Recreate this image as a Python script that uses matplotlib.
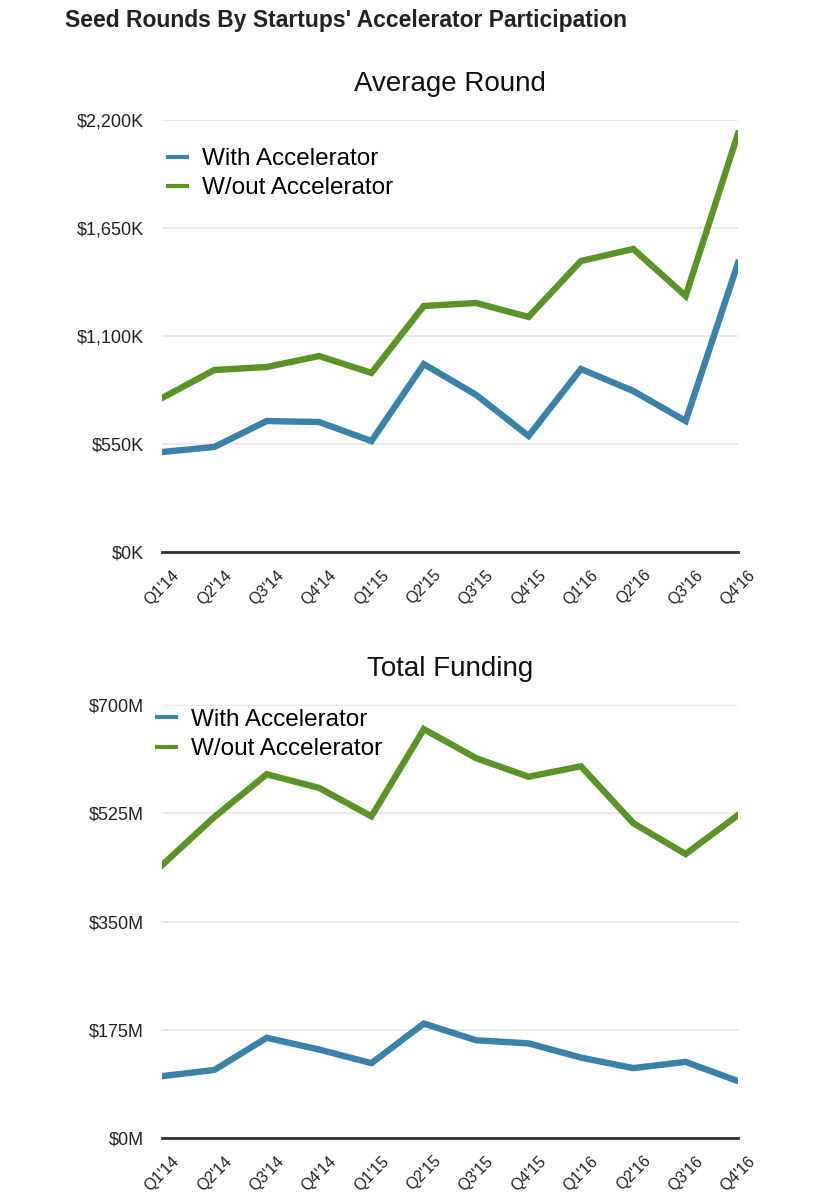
import matplotlib
matplotlib.use("Agg")
import matplotlib.pyplot as plt
from matplotlib.ticker import FixedLocator

plt.rcParams["font.family"] = ["Liberation Sans", "DejaVu Sans"]

# ---------------------------------------------------------------------------
# Data
# ---------------------------------------------------------------------------
quarters = ["Q1'14", "Q2'14", "Q3'14", "Q4'14", "Q1'15", "Q2'15",
            "Q3'15", "Q4'15", "Q1'16", "Q2'16", "Q3'16", "Q4'16"]

# average round size, $K
avg_with = [509, 535, 667, 662, 565, 957, 800, 591, 932, 820, 667, 1472]
avg_without = [784, 927, 942, 998, 912, 1253, 1268, 1197, 1482, 1543, 1304, 2130]

# total funding, $M
tot_with = [100, 110, 162, 143, 121, 185, 158, 153, 130, 113, 123, 92]
tot_without = [441, 519, 588, 566, 520, 661, 614, 584, 601, 509, 459, 522]

avg_ticks = [0, 550, 1100, 1650, 2200]
avg_labels = ["$0K", "$550K", "$1,100K", "$1,650K", "$2,200K"]
tot_ticks = [0, 175, 350, 525, 700]
tot_labels = ["$0M", "$175M", "$350M", "$525M", "$700M"]

BLUE = "#3a82a8"
GREEN = "#5a9326"
GRID = "#e6e6e6"
BASE = "#333333"


def draw_panel(fig, rect, title, s_with, s_without, ticks, labels, legend_anchor):
    ax = fig.add_axes(rect)
    x = range(len(quarters))
    ax.plot(x, s_with, color=BLUE, linewidth=4.6, solid_joinstyle="miter",
            label="With Accelerator", zorder=3)
    ax.plot(x, s_without, color=GREEN, linewidth=4.6, solid_joinstyle="miter",
            label="W/out Accelerator", zorder=3)

    ax.set_xlim(0, len(quarters) - 1)
    ax.set_ylim(ticks[0], ticks[-1])
    ax.yaxis.set_major_locator(FixedLocator(ticks))
    ax.set_yticklabels(labels, fontsize=13, color="#222222")
    ax.set_xticks(list(x))
    # rotated labels, bounding box centred under each tick
    ax.set_xticklabels(quarters, fontsize=11.5, color="#222222",
                       rotation=45, ha="center", va="top")

    ax.tick_params(axis="both", length=0)
    ax.tick_params(axis="y", pad=13)
    ax.tick_params(axis="x", pad=11)
    ax.grid(axis="y", color=GRID, linewidth=1.2, zorder=0)
    ax.grid(axis="x", visible=False)
    for side in ["top", "right", "left"]:
        ax.spines[side].set_visible(False)
    ax.spines["bottom"].set_color(BASE)
    ax.spines["bottom"].set_linewidth(2)
    ax.spines["bottom"].set_zorder(4)
    ax.set_title(title, fontsize=20, color="#111111", pad=21)

    leg = ax.legend(loc="upper left", bbox_to_anchor=legend_anchor,
                    frameon=False, fontsize=17.5, handlelength=0.8,
                    handletextpad=0.6, labelspacing=0.3, borderaxespad=0,
                    borderpad=0)
    for line in leg.get_lines():
        line.set_linewidth(3)
    return ax


fig = plt.figure(figsize=(8.3, 12), dpi=100)
fig.text(65 / 830, 1 - 21 / 1200, "Seed Rounds By Startups' Accelerator Participation",
         fontsize=16.5, fontweight="bold", color="#222222", va="center", ha="left")

draw_panel(fig, [162 / 830, 1 - 552 / 1200, 576 / 830, 432 / 1200],
           "Average Round", avg_with, avg_without, avg_ticks, avg_labels,
           (0.01, 0.935))
draw_panel(fig, [162 / 830, 1 - 1138 / 1200, 576 / 830, 433 / 1200],
           "Total Funding", tot_with, tot_without, tot_ticks, tot_labels,
           (-0.009, 0.991))

fig.savefig("out.png", dpi=100, facecolor="white")
